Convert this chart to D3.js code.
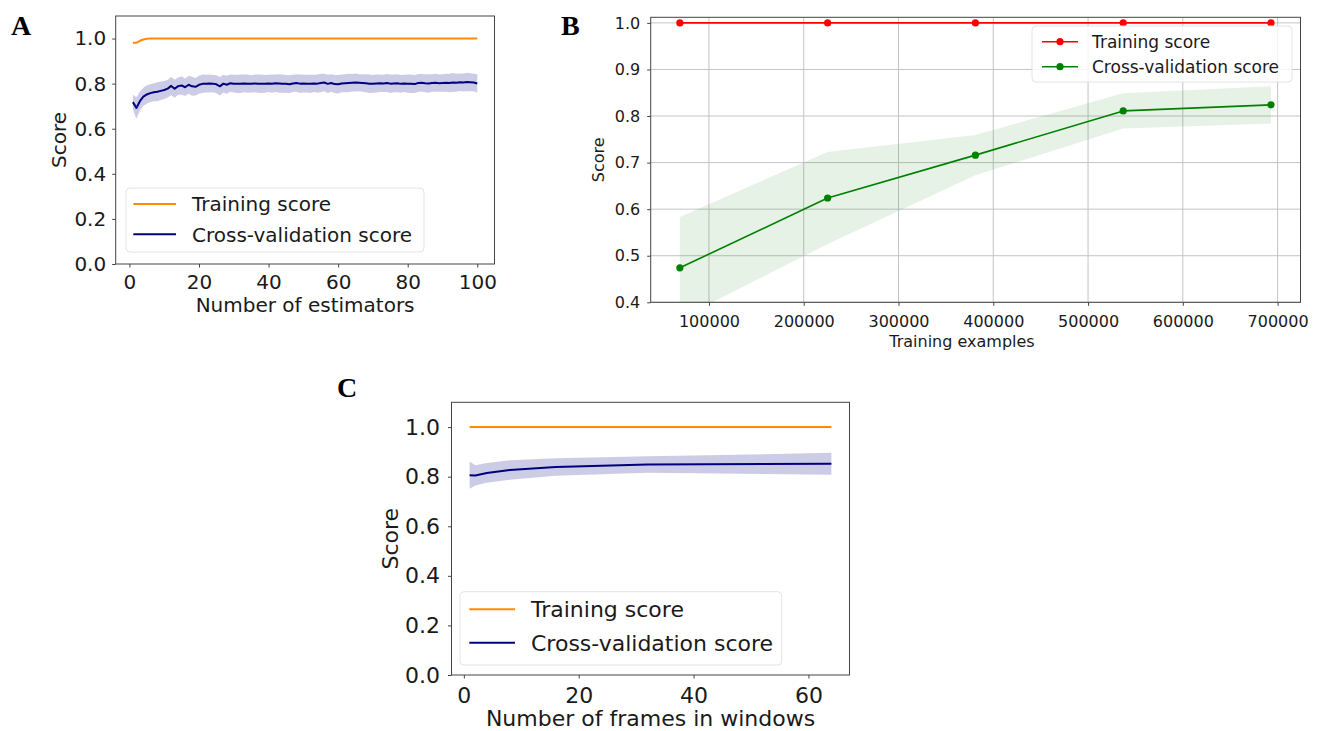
<!DOCTYPE html>
<html>
<head>
<meta charset="utf-8">
<script src="https://cdn.jsdelivr.net/npm/d3@7"></script>
<style>
body { margin: 0; background: #fff; }
text { font-family: "DejaVu Sans", sans-serif; fill: #1a1a1a; }
.letter { font-family: "Liberation Serif", "Times New Roman", serif; font-weight: bold; fill: #000; }
.domain { stroke: #444; }
.tick line { stroke: #444; }
</style>
</head>
<body>
<svg id="fig" width="1322" height="731"></svg>
<script>
// learning curves -- three panels

// Panel A: number of estimators
var trainA = [0.981, 0.981, 0.99, 0.996, 0.999, 1, 1, 1, 1, 1,
  1, 1, 1, 1, 1, 1, 1, 1, 1, 1,
  1, 1, 1, 1, 1, 1, 1, 1, 1, 1,
  1, 1, 1, 1, 1, 1, 1, 1, 1, 1,
  1, 1, 1, 1, 1, 1, 1, 1, 1, 1,
  1, 1, 1, 1, 1, 1, 1, 1, 1, 1,
  1, 1, 1, 1, 1, 1, 1, 1, 1, 1,
  1, 1, 1, 1, 1, 1, 1, 1, 1, 1,
  1, 1, 1, 1, 1, 1, 1, 1, 1, 1,
  1, 1, 1, 1, 1, 1, 1, 1, 1, 1];
var cvA = [0.718, 0.692, 0.722, 0.742, 0.752, 0.758, 0.762, 0.764, 0.768, 0.772,
  0.778, 0.790, 0.777, 0.789, 0.792, 0.784, 0.795, 0.788, 0.786, 0.795,
  0.799, 0.800, 0.801, 0.800, 0.797, 0.788, 0.800, 0.795, 0.802, 0.800,
  0.799, 0.800, 0.801, 0.800, 0.799, 0.801, 0.800, 0.800, 0.799, 0.801,
  0.800, 0.802, 0.801, 0.800, 0.799, 0.797, 0.801, 0.803, 0.800, 0.801,
  0.800, 0.799, 0.801, 0.800, 0.803, 0.805, 0.799, 0.803, 0.798, 0.797,
  0.801, 0.802, 0.803, 0.804, 0.805, 0.804, 0.803, 0.802, 0.800, 0.799,
  0.801, 0.802, 0.801, 0.803, 0.800, 0.801, 0.802, 0.799, 0.801, 0.800,
  0.799, 0.798, 0.803, 0.804, 0.802, 0.801, 0.803, 0.804, 0.802, 0.803,
  0.804, 0.803, 0.805, 0.804, 0.806, 0.805, 0.807, 0.806, 0.805, 0.801];
var cvStdA = [0.033, 0.048, 0.042, 0.040, 0.041, 0.039, 0.040, 0.042, 0.041, 0.040,
  0.039, 0.041, 0.040, 0.038, 0.041, 0.039, 0.040, 0.042, 0.039, 0.040,
  0.041, 0.039, 0.040, 0.038, 0.040, 0.041, 0.039, 0.040, 0.038, 0.039,
  0.040, 0.041, 0.039, 0.040, 0.038, 0.039, 0.040, 0.041, 0.039, 0.038,
  0.040, 0.039, 0.041, 0.040, 0.039, 0.040, 0.038, 0.039, 0.041, 0.040,
  0.039, 0.040, 0.038, 0.040, 0.041, 0.039, 0.040, 0.039, 0.040, 0.041,
  0.039, 0.040, 0.041, 0.039, 0.040, 0.038, 0.039, 0.040, 0.041, 0.039,
  0.040, 0.039, 0.038, 0.040, 0.041, 0.039, 0.040, 0.039, 0.038, 0.040,
  0.041, 0.039, 0.040, 0.039, 0.040, 0.041, 0.039, 0.040, 0.038, 0.039,
  0.040, 0.041, 0.042, 0.040, 0.039, 0.040, 0.041, 0.040, 0.039, 0.041];
var ticksA = [0, 20, 40, 60, 80, 100];
var yTicks = [0, 0.2, 0.4, 0.6, 0.8, 1.0];

// Panel B: training examples
var sizesB = [69300, 225225, 381150, 537075, 693000];
var trainB = [1, 1, 1, 1, 1];
var cvB = [0.474, 0.624, 0.716, 0.811, 0.824];
var cvStdB = [0.109, 0.099, 0.043, 0.038, 0.040];
var ticksBx = [100000, 200000, 300000, 400000, 500000, 600000, 700000];
var ticksBy = [0.4, 0.5, 0.6, 0.7, 0.8, 0.9, 1.0];

// Panel C: number of frames in windows
var framesC = [1, 2, 4, 8, 16, 32, 64];
var trainC = [1, 1, 1, 1, 1, 1, 1];
var cvC = [0.806, 0.805, 0.815, 0.827, 0.839, 0.849, 0.852];
var cvStdC = [0.055, 0.041, 0.040, 0.039, 0.035, 0.033, 0.044];
var ticksC = [0, 20, 40, 60];

var legendLabels = ["Training score", "Cross-validation score"];

var svg = d3.select("#fig");

function fmt1(d) { return d3.format(".1f")(d); }
function fmtInt(d) { return d3.format("d")(d); }

function drawAxes(p) {
  var g = svg.append("g");
  var x = d3.scaleLinear().domain(p.xDomain).range([p.left, p.right]);
  var y = d3.scaleLinear().domain(p.yDomain).range([p.bottom, p.top]);

  // clip for bands
  g.append("clipPath").attr("id", "clip" + p.id)
    .append("rect")
    .attr("x", p.left).attr("y", p.top)
    .attr("width", p.right - p.left).attr("height", p.bottom - p.top);

  if (p.grid) {
    g.selectAll(".gx").data(p.xTicks).enter().append("line")
      .attr("x1", function (d) { return x(d); }).attr("x2", function (d) { return x(d); })
      .attr("y1", p.top).attr("y2", p.bottom)
      .attr("stroke", "#c4c4c4").attr("stroke-width", 1);
    g.selectAll(".gy").data(p.yTicks).enter().append("line")
      .attr("y1", function (d) { return y(d); }).attr("y2", function (d) { return y(d); })
      .attr("x1", p.left).attr("x2", p.right)
      .attr("stroke", "#c4c4c4").attr("stroke-width", 1);
  }

  var xa = g.append("g").attr("transform", "translate(0," + p.bottom + ")")
    .call(d3.axisBottom(x).tickValues(p.xTicks).tickFormat(fmtInt).tickSize(3.5).tickPadding(p.xPad).tickSizeOuter(0));
  var ya = g.append("g").attr("transform", "translate(" + p.left + ",0)")
    .call(d3.axisLeft(y).tickValues(p.yTicks).tickFormat(fmt1).tickSize(3.5).tickPadding(p.yPad).tickSizeOuter(0));
  xa.selectAll("text").style("font-size", p.tickFont + "px");
  ya.selectAll("text").style("font-size", p.tickFont + "px");
  xa.select(".domain").remove();
  ya.select(".domain").remove();

  // frame
  g.append("rect")
    .attr("x", p.left).attr("y", p.top)
    .attr("width", p.right - p.left).attr("height", p.bottom - p.top)
    .attr("fill", "none").attr("stroke", "#444").attr("stroke-width", 1);

  g.append("text")
    .attr("x", p.xLabelX || (p.left + p.right) / 2).attr("y", p.xLabelY)
    .attr("text-anchor", "middle").style("font-size", p.labelFont + "px")
    .text(p.xLabel);
  g.append("text")
    .attr("transform", "translate(" + p.yLabelX + "," + ((p.top + p.bottom) / 2) + ") rotate(-90)")
    .attr("text-anchor", "middle").style("font-size", p.labelFont + "px")
    .text("Score");

  g.append("text").attr("class", "letter")
    .attr("x", p.letterX).attr("y", p.letterY)
    .style("font-size", "28px")
    .text(p.letter);

  return {g: g, x: x, y: y};
}

function drawSeries(ax, p, xs, mean, std, color, bandOpacity, width, markers) {
  var pts = xs.map(function (d, i) { return {x: d, m: mean[i], s: std ? std[i] : 0}; });
  if (std) {
    var area = d3.area()
      .x(function (d) { return ax.x(d.x); })
      .y0(function (d) { return ax.y(d.m - d.s); })
      .y1(function (d) { return ax.y(d.m + d.s); });
    ax.g.append("path").datum(pts)
      .attr("clip-path", "url(#clip" + p.id + ")")
      .attr("d", area)
      .attr("fill", color).attr("fill-opacity", bandOpacity);
  }
  var line = d3.line()
    .x(function (d) { return ax.x(d.x); })
    .y(function (d) { return ax.y(d.m); });
  ax.g.append("path").datum(pts)
    .attr("d", line)
    .attr("fill", "none").attr("stroke", color).attr("stroke-width", width)
    .attr("stroke-linejoin", "round");
  if (markers) {
    ax.g.selectAll(null).data(pts).enter().append("circle")
      .attr("cx", function (d) { return ax.x(d.x); })
      .attr("cy", function (d) { return ax.y(d.m); })
      .attr("r", 3.6).attr("fill", color);
  }
}

function drawLegend(ax, lg, colors, width, markers) {
  ax.g.append("rect")
    .attr("x", lg.x0).attr("y", lg.y0)
    .attr("width", lg.x1 - lg.x0).attr("height", lg.y1 - lg.y0)
    .attr("rx", 4)
    .attr("fill", "#fff").attr("fill-opacity", 0.8)
    .attr("stroke", "#e4e4e4").attr("stroke-width", 1);
  legendLabels.forEach(function (lab, i) {
    var ly = lg.rows[i];
    ax.g.append("line")
      .attr("x1", lg.lx0).attr("x2", lg.lx1)
      .attr("y1", ly).attr("y2", ly)
      .attr("stroke", colors[i]).attr("stroke-width", width);
    if (markers) {
      ax.g.append("circle")
        .attr("cx", (lg.lx0 + lg.lx1) / 2).attr("cy", ly)
        .attr("r", 3.6).attr("fill", colors[i]);
    }
    ax.g.append("text")
      .attr("x", lg.tx).attr("y", ly)
      .attr("dy", "0.36em")
      .style("font-size", lg.font + "px")
      .text(lab);
  });
}

// ---- Panel A
var pA = {id: "A", left: 115.7, right: 494.5, top: 16, bottom: 264,
  xDomain: [-3.95, 104.95], yDomain: [0, 1.1], xTicks: ticksA, yTicks: yTicks,
  xPad: 7, yPad: 6, tickFont: 20, labelFont: 20,
  xLabel: "Number of estimators", xLabelY: 312, yLabelX: 66,
  letter: "A", letterX: 11, letterY: 35};
var axA = drawAxes(pA);
var nA = d3.range(1, cvA.length + 1);
drawSeries(axA, pA, nA, trainA, null, "darkorange", 0.2, 2, false);
drawSeries(axA, pA, nA, cvA, cvStdA, "navy", 0.2, 2, false);
drawLegend(axA, {x0: 126, x1: 424, y0: 188, y1: 252, rows: [204, 234.3],
  lx0: 133.3, lx1: 176, tx: 192, font: 20}, ["darkorange", "navy"], 2, false);

// ---- Panel B
var pB = {id: "B", left: 650.7, right: 1300.5, top: 17.3, bottom: 302.3,
  xDomain: [38535, 724165], yDomain: [0.4, 1.012], xTicks: ticksBx, yTicks: ticksBy,
  xPad: 10, yPad: 7, tickFont: 16, labelFont: 16, grid: true,
  xLabel: "Training examples", xLabelX: 962, xLabelY: 347, yLabelX: 604,
  letter: "B", letterX: 561, letterY: 35};
var axB = drawAxes(pB);
drawSeries(axB, pB, sizesB, trainB, [0, 0, 0, 0, 0], "red", 0.1, 1.6, true);
drawSeries(axB, pB, sizesB, cvB, cvStdB, "green", 0.1, 1.6, true);
drawLegend(axB, {x0: 1032, x1: 1292, y0: 26, y1: 82, rows: [41.7, 66.7],
  lx0: 1042, lx1: 1078, tx: 1092, font: 17}, ["red", "green"], 1.6, true);

// ---- Panel C
var pC = {id: "C", left: 451.5, right: 849.5, top: 402.3, bottom: 675,
  xDomain: [-2.15, 67.15], yDomain: [0, 1.1], xTicks: ticksC, yTicks: yTicks,
  xPad: 8.5, yPad: 8, tickFont: 22, labelFont: 22,
  xLabel: "Number of frames in windows", xLabelY: 726, yLabelX: 398,
  letter: "C", letterX: 337, letterY: 397};
var axC = drawAxes(pC);
drawSeries(axC, pC, framesC, trainC, null, "darkorange", 0.2, 2, false);
drawSeries(axC, pC, framesC, cvC, cvStdC, "navy", 0.2, 2, false);
drawLegend(axC, {x0: 460, x1: 781.7, y0: 591.7, y1: 665, rows: [609.3, 642.7],
  lx0: 469.3, lx1: 515, tx: 531, font: 22}, ["darkorange", "navy"], 2, false);
</script>
</body>
</html>
